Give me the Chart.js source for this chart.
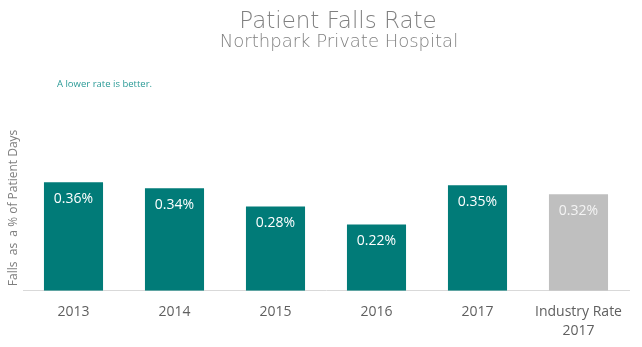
<!DOCTYPE html>
<html>
<head>
<meta charset="utf-8">
<script src="https://cdn.jsdelivr.net/npm/chart.js@4.4.1/dist/chart.umd.min.js"></script>
<style>
  html, body { margin: 0; padding: 0; background: #fff; }
  #wrap { width: 642px; height: 347px; }
</style>
</head>
<body>
<div id="wrap"><canvas id="fallsChart"></canvas></div>
<script>
"use strict";

var categories = ['2013', '2014', '2015', '2016', '2017', ['Industry Rate', '2017']];
var fallsRate = [0.36, 0.34, 0.28, 0.22, 0.35, 0.32];
var barColors = ['#017b78', '#017b78', '#017b78', '#017b78', '#017b78', '#bfbfbf'];
var valueLabels = ['0.36%', '0.34%', '0.28%', '0.22%', '0.35%', '0.32%'];

var headerText = {
    id: 'headerText',
    afterDraw: function (chart) {
        var c = chart.ctx;
        c.save();
        c.textAlign = 'center';
        c.textBaseline = 'alphabetic';
        c.fillStyle = '#808080';
        c.font = '300 23px "DejaVu Sans", sans-serif';
        c.fillText('Patient Falls Rate', 338, 28);
        c.font = '300 18px "DejaVu Sans", sans-serif';
        c.fillText('Northpark Private Hospital', 339, 47);
        c.textAlign = 'left';
        c.textBaseline = 'middle';
        c.fillStyle = '#2a9a96';
        c.font = '9.5px "Open Sans", sans-serif';
        c.fillText('A lower rate is better.', 57, 84);
        c.restore();
    }
};

var barValues = {
    id: 'barValues',
    afterDatasetsDraw: function (chart) {
        var c = chart.ctx;
        var meta = chart.getDatasetMeta(0);
        c.save();
        c.textAlign = 'center';
        c.textBaseline = 'middle';
        c.font = '14px "Open Sans", sans-serif';
        meta.data.forEach(function (bar, i) {
            c.fillStyle = i === 5 ? '#f4f4f4' : '#ffffff';
            c.fillText(valueLabels[i], bar.x, bar.y + 17);
        });
        c.restore();
    }
};

document.addEventListener('DOMContentLoaded', function () {
    var ctx = document.getElementById('fallsChart').getContext('2d');

    new Chart(ctx, {
        type: 'bar',
        data: {
            labels: categories,
            datasets: [{
                data: fallsRate,
                backgroundColor: barColors,
                borderWidth: 0,
                categoryPercentage: 1,
                barPercentage: 0.585
            }]
        },
        options: {
            responsive: true,
            maintainAspectRatio: false,
            animation: false,
            layout: {
                padding: { top: 125, left: 0, right: 13, bottom: -5 }
            },
            scales: {
                x: {
                    grid: { display: false, drawTicks: false },
                    border: { display: true, color: '#d9d9d9', width: 1 },
                    ticks: {
                        color: '#5f5f5f',
                        padding: 11,
                        maxRotation: 0,
                        font: { family: 'Open Sans', size: 14, lineHeight: 1.4 }
                    }
                },
                y: {
                    min: 0,
                    max: 0.55,
                    grid: { display: false },
                    border: { display: false },
                    ticks: { display: false },
                    afterFit: function (scale) { scale.width = 23; },
                    title: {
                        display: true,
                        text: 'Falls  as  a % of Patient Days',
                        color: '#7f7f7f',
                        padding: { top: 6, bottom: 0 },
                        font: { family: 'Open Sans', size: 12 }
                    }
                }
            },
            plugins: {
                legend: { display: false },
                tooltip: { enabled: false }
            }
        },
        plugins: [headerText, barValues]
    });
});
</script>
</body>
</html>
